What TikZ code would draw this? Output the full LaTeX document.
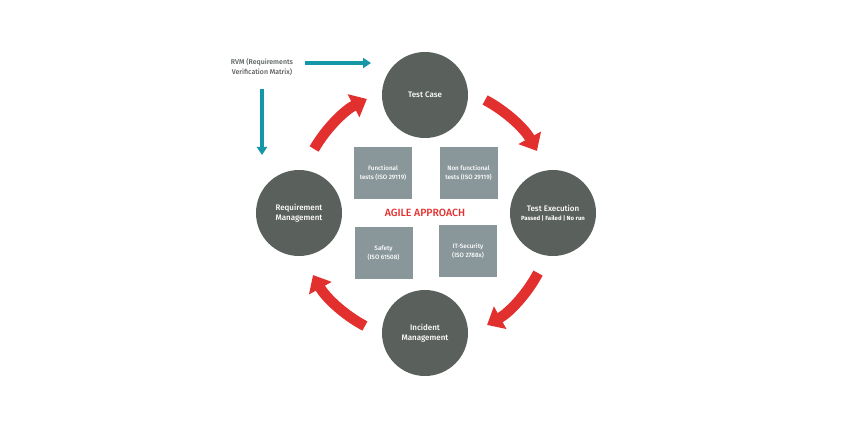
\documentclass[tikz,border=0pt]{standalone}
\usepackage{fontspec}
\setmainfont{Fira Sans}[UprightFont=* Medium,BoldFont=* Bold]
\usetikzlibrary{arrows.meta,calc}
\definecolor{circgray}{HTML}{5A605C}
\definecolor{boxgray}{HTML}{8A979A}
\definecolor{arrred}{HTML}{E2302F}
\definecolor{teal}{HTML}{1597A8}
\begin{document}
\begin{tikzpicture}[x=1pt,y=1pt,
  phase/.style={circle,fill=circgray,minimum size=86pt,inner sep=0pt,text=white,align=center,font=\fontsize{8}{10.5}\selectfont},
  testbox/.style={rectangle,fill=boxgray,minimum width=58pt,minimum height=52pt,inner sep=0pt,text=white,align=center,font=\fontsize{6.3}{9}\selectfont},
  cyclearrow/.style={draw=arrred,line width=10.5pt,-{Triangle[width=25pt,length=15pt]}},
  rvmarrow/.style={draw=teal,line width=3.5pt,-{Triangle[width=10pt,length=8pt]}}]
\useasboundingbox (0,0) rectangle (850,425);
\coordinate (C) at (425,212);
\node[phase] (tc) at (425,330) {Test Case};
\node[phase] (te) at (553,212) {Test Execution\\[-1pt]{\fontsize{6}{7.5}\selectfont\bfseries Passed | Failed | No run}};
\node[phase] (rm) at (299,212) {Requirement\\Management};
\node[phase] (im) at (425,92) {Incident\\Management};
\node[testbox] (fn) at (383,252) {Functional\\tests (ISO 29119)};
\node[testbox] (nf) at (468.5,252) {Non functional\\tests (ISO 29119)};
\node[testbox] (sf) at (383.5,172) {Safety\\(ISO 61508)};
\node[testbox] (it) at (468,174) {IT-Security\\(ISO 2788x)};
\node[text=arrred,font=\fontsize{10.5}{12}\selectfont] (agile) at (C) {AGILE APPROACH};
\node[text=circgray,align=center,font=\fontsize{7}{10.5}\selectfont] (rvm) at (262,358) {RVM (Requirements\\Verification Matrix)};
\coordinate (h1) at (305,362);
\coordinate (h2) at (371,362);
\coordinate (v1) at (262,336);
\coordinate (v2) at (262,270);
\draw[rvmarrow] (h1) -- (h2);
\draw[rvmarrow] (v1) -- (v2);
\draw[cyclearrow] ($(C)+(150:128)$) arc[start angle=150,end angle=117,radius=128];
\draw[cyclearrow] ($(C)+(62:128)$) arc[start angle=62,end angle=29,radius=128];
\draw[cyclearrow] ($(C)+(-28:128)$) arc[start angle=-28,end angle=-61,radius=128];
\draw[cyclearrow] ($(C)+(-118:128)$) arc[start angle=-118,end angle=-151,radius=128];
\end{tikzpicture}
\end{document}
